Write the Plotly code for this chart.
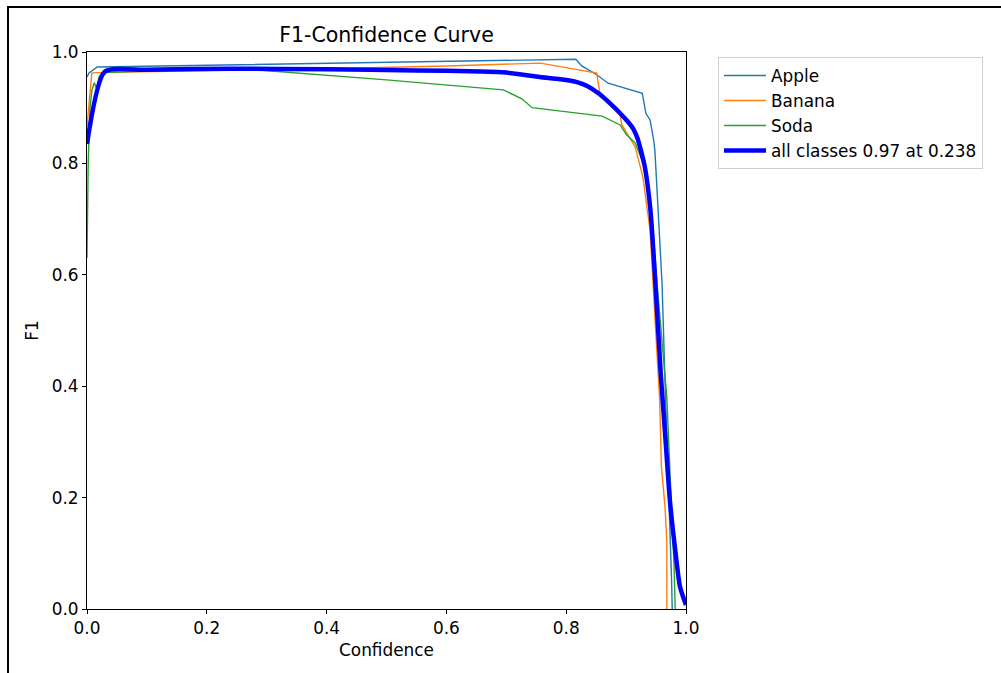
import plotly.graph_objects as go

# Per-class F1 vs confidence threshold
apple_conf = [0.0, 0.003, 0.017, 0.2, 0.4, 0.6, 0.816, 0.826, 0.85, 0.87, 0.927, 0.933,
              0.94, 0.946, 0.948, 0.951, 0.955, 0.96, 0.965, 0.972, 0.976, 0.977]
apple_f1 = [0.955, 0.962, 0.973, 0.976, 0.979, 0.983, 0.987, 0.975, 0.96, 0.944, 0.926, 0.89,
            0.878, 0.842, 0.824, 0.765, 0.68, 0.585, 0.406, 0.196, 0.05, 0.0]

banana_conf = [0.0, 0.008, 0.015, 0.2, 0.4, 0.6, 0.757, 0.851, 0.856, 0.89, 0.893, 0.915,
               0.928, 0.94, 0.951, 0.956, 0.959, 0.965, 0.968, 0.968]
banana_f1 = [0.866, 0.962, 0.963, 0.966, 0.970, 0.975, 0.980, 0.962, 0.928, 0.887, 0.869, 0.83,
             0.776, 0.68, 0.478, 0.375, 0.255, 0.183, 0.12, 0.0]

soda_conf = [0.0, 0.002, 0.005, 0.008, 0.012, 0.016, 0.02, 0.025, 0.1, 0.28, 0.5, 0.695,
             0.726, 0.743, 0.86, 0.89, 0.901, 0.915, 0.935, 0.945, 0.952, 0.96, 0.968,
             0.975, 0.98, 0.982]
soda_f1 = [0.63, 0.8, 0.9, 0.93, 0.945, 0.935, 0.955, 0.963, 0.966, 0.968, 0.95, 0.932,
           0.916, 0.9, 0.885, 0.869, 0.851, 0.837, 0.783, 0.68, 0.58, 0.48, 0.38,
           0.2, 0.08, 0.0]

# Mean over classes
all_conf = [0.0, 0.03, 0.1, 0.238, 0.4, 0.55, 0.656, 0.7, 0.756, 0.79, 0.818, 0.835, 0.855,
            0.875, 0.89, 0.902, 0.912, 0.919, 0.925, 0.931, 0.936, 0.941, 0.948, 0.958,
            0.965, 0.973, 0.982, 0.99, 1.0]
all_f1 = [0.835, 0.965, 0.968, 0.970, 0.969, 0.967, 0.965, 0.963, 0.955, 0.951, 0.946, 0.939,
          0.925, 0.906, 0.890, 0.876, 0.862, 0.845, 0.822, 0.795, 0.760, 0.712, 0.600, 0.420,
          0.316, 0.196, 0.106, 0.040, 0.007]

tick_vals = [0.0, 0.2, 0.4, 0.6, 0.8, 1.0]

FONT = "DejaVu Sans"
FS = 16.9

fig = go.Figure()
fig.add_trace(go.Scatter(x=apple_conf, y=apple_f1, mode="lines", name="Apple",
                         legendgroup="a", line=dict(color="#1f77b4", width=1.4)))
fig.add_trace(go.Scatter(x=banana_conf, y=banana_f1, mode="lines", name="Banana",
                         legendgroup="b", line=dict(color="#ff7f0e", width=1.4)))
fig.add_trace(go.Scatter(x=soda_conf, y=soda_f1, mode="lines", name="Soda",
                         legendgroup="c", line=dict(color="#2ca02c", width=1.4)))
fig.add_trace(go.Scatter(x=all_conf, y=all_f1, mode="lines", name="all classes 0.97 at 0.238",
                         legendgroup="d",
                         line=dict(color="#0000ff", width=4.5, shape="spline", smoothing=0.6)))

axis_common = dict(
    range=[0, 1], tickvals=tick_vals, tickformat=".1f",
    showgrid=False, zeroline=False,
    showline=True, linecolor="black", linewidth=1, mirror=True,
    ticks="outside", ticklen=4, tickwidth=1, tickcolor="black",
    tickfont=dict(family=FONT, size=FS, color="black"),
)

fig.update_xaxes(**axis_common,
                 title=dict(text="Confidence", font=dict(family=FONT, size=FS, color="black"),
                            standoff=6))
fig.update_yaxes(**axis_common,
                 title=dict(text="F1", font=dict(family=FONT, size=FS, color="black"),
                            standoff=8))

W, H = 1001, 673
L, R, T, B = 87, 1001 - 686, 52, 673 - 609
pw, ph = W - L - R, H - T - B


def px_x(p):
    return (p - L) / pw


def px_y(p):
    return (H - B - p) / ph


fig.update_layout(
    width=W, height=H,
    margin=dict(l=L, r=R, t=T, b=B, autoexpand=False),
    paper_bgcolor="white", plot_bgcolor="white",
    font=dict(family=FONT, color="black"),
    title=dict(text="F1-Confidence Curve", x=0.5, xref="paper", xanchor="center",
               y=1 - 35 / H, yref="container", yanchor="middle",
               font=dict(family=FONT, size=20.5, color="black")),
    showlegend=True,
    legend=dict(x=px_x(718), y=px_y(57), xanchor="left", yanchor="top",
                bgcolor="white", bordercolor="#d0d0d0", borderwidth=1,
                font=dict(family=FONT, size=FS, color="black"),
                traceorder="grouped", tracegroupgap=0, itemwidth=42),
    shapes=[
        dict(type="line", xref="paper", yref="paper",
             x0=px_x(7), x1=px_x(1001), y0=px_y(7), y1=px_y(7),
             line=dict(color="black", width=2)),
        dict(type="line", xref="paper", yref="paper",
             x0=px_x(8), x1=px_x(8), y0=px_y(6), y1=px_y(673),
             line=dict(color="black", width=2)),
    ],
)

fig.write_html("out.html")
